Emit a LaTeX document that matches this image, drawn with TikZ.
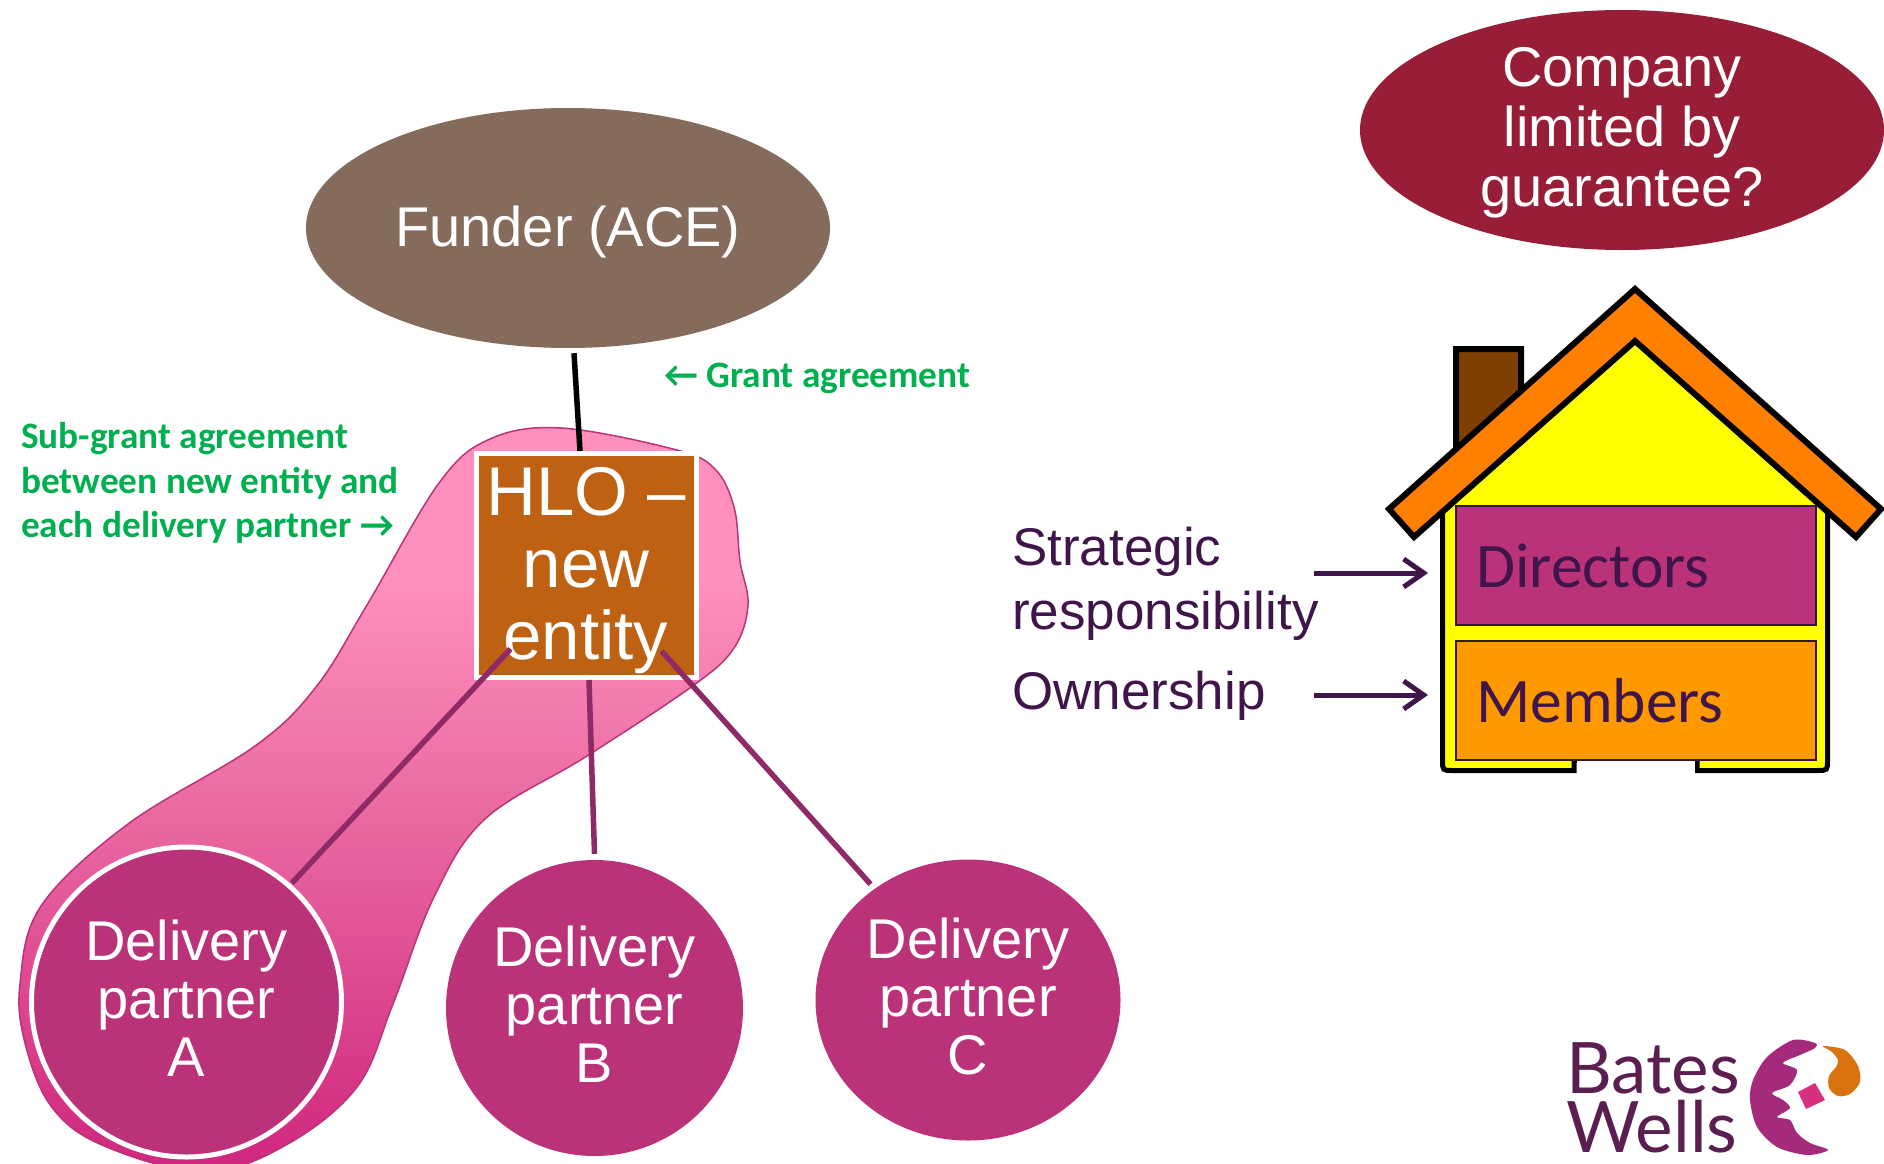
\documentclass[tikz,border=0pt]{standalone}
\usepackage{fontspec}
\setmainfont{Liberation Sans}
\newfontfamily\calib{Carlito}
\newfontfamily\logofont{Lato}
\usetikzlibrary{shapes.geometric,arrows.meta}
\definecolor{funderc}{HTML}{856B5B}
\definecolor{companyc}{HTML}{981D37}
\definecolor{magentac}{HTML}{BA3378}
\definecolor{linkc}{HTML}{8E2A66}
\definecolor{hloc}{HTML}{BE6113}
\definecolor{plumc}{HTML}{40154A}
\definecolor{greenc}{HTML}{00B050}
\definecolor{roofc}{HTML}{FF8000}
\definecolor{chimc}{HTML}{7F3F00}
\definecolor{wallc}{HTML}{FFFF00}
\definecolor{memc}{HTML}{FF9900}
\definecolor{logoc}{HTML}{5A1E50}
\definecolor{logom}{HTML}{A62A7C}
\definecolor{logoo}{HTML}{D9730F}
\definecolor{logop}{HTML}{D8307F}
\pgfdeclareverticalshading{blobshade}{100bp}{rgb(0bp)=(0.816,0.149,0.494); rgb(25bp)=(0.816,0.149,0.494); rgb(50bp)=(0.918,0.424,0.639); rgb(65bp)=(1,0.565,0.745); rgb(100bp)=(1,0.565,0.745)}
\tikzset{
  bigoval/.style={ellipse,inner sep=0pt,minimum width=524pt,minimum height=240pt,text=white,align=center,font=\fontsize{56}{60}\selectfont},
  partner/.style={ellipse,inner sep=0pt,fill=magentac,text=white,align=center,font=\fontsize{56}{58}\selectfont},
  link/.style={draw=linkc,line width=5.5pt},
  greentext/.style={text=greenc,align=left,inner sep=0pt,font=\calib\bfseries\fontsize{37.3}{44.5}\selectfont},
  plumtext/.style={text=plumc,align=left,inner sep=0pt,font=\fontsize{53}{64}\selectfont},
  roomlabel/.style={text=plumc,inner sep=0pt,anchor=base west,font=\calib\fontsize{63.5}{64}\selectfont},
  room/.style={draw=plumc!85!black,line width=2pt,minimum width=360pt,minimum height=119pt,inner sep=0pt},
  housearrow/.style={draw=plumc,line width=5pt,-{Straight Barb[length=20pt,width=28pt,line width=5pt]}},
  logotext/.style={text=logoc,inner sep=0pt,anchor=north west,align=left,font=\logofont\fontsize{71}{59}\selectfont}
}
\begin{document}
\begin{tikzpicture}[x=1pt,y=-1pt]
\path[fill=white,use as bounding box] (0,0) rectangle (1884,1164);
% blob
\shade[shading=blobshade,draw=magentac,line width=1.5pt]
 plot[smooth cycle,tension=0.6] coordinates {(561,428)(673,449)(714,468)(734,507)(740,561)(748,605)(734,648)(694,685)(587,756)(485,819)(434,897)(393,1004)(357,1087)(286,1145)(204,1172)(102,1145)(51,1106)(25,1043)(20,984)(41,906)(128,824)(255,746)(316,687)(367,605)(439,483)(490,439)};
% main nodes
\node[bigoval,fill=funderc] (funder) at (568,228) {\rule{0pt}{48pt}Funder (ACE)};
\node[bigoval,fill=companyc] (company) at (1622,130) {\rule{0pt}{33pt}\smash{Company}\\limited by\\\smash{guarantee?}};
\node[draw=white,line width=5pt,fill=hloc,text=white,align=center,inner sep=0pt,minimum width=220pt,minimum height=224pt,font=\fontsize{69}{72}\selectfont] (hlo) at (586,565.5) {\rule{0pt}{58pt}HLO --\\new\\entity};
\node[partner,draw=white,line width=5pt,minimum width=310pt,minimum height=310pt] (dpa) at (186.5,1002) {Delivery\\partner\\\rule[-7pt]{0pt}{1pt}A};
\node[partner,minimum width=297pt,minimum height=296pt] (dpb) at (594.5,1008) {Delivery\\partner\\\rule[-7pt]{0pt}{1pt}B};
\node[partner,minimum width=305pt,minimum height=281pt] (dpc) at (968,1000) {Delivery\\partner\\\rule[-7pt]{0pt}{1pt}C};
% connectors
\draw[line width=5.5pt,black] ([xshift=6pt,yshift=-5pt]funder.south) -- ([xshift=-6pt]hlo.north);
\draw[link] ([xshift=37pt,yshift=31pt]hlo.south west) -- ([xshift=2pt]dpa.49);
\draw[link] ([xshift=3pt]hlo.south) -- ([yshift=6pt]dpb.north);
\draw[link] ([xshift=-37pt,yshift=29pt]hlo.south east) -- ([xshift=-2pt,yshift=6pt]dpc.131);
% green text
\node[greentext,anchor=north west] (subgrant) at (21,422.5) {Sub-grant agreement\\between new entity and\\each delivery partner →};
\node[greentext,anchor=base west] (grant) at (664,387) {← Grant agreement};
% house
\draw[line width=6pt,fill=chimc,line join=miter] (1456,349) -- (1521,349) -- (1521,400) -- (1456,460) -- cycle;
\draw[line width=5pt,fill=wallc,line join=miter] (1635,330) -- (1827.5,505) -- (1827.5,760) .. controls (1827.5,770.5) .. (1817,770.5) -- (1697,770.5) -- (1697,760) -- (1574,760) -- (1574,770.5) -- (1453,770.5) .. controls (1442.5,770.5) .. (1442.5,760) -- (1442.5,505) -- cycle;
\fill[white] (1576.5,761) rectangle (1694.5,776);
\draw[line width=6pt,fill=roofc,line join=miter] (1635,289) -- (1881,509) -- (1856,537) -- (1635,341) -- (1414,537) -- (1389,509) -- cycle;
\node[room,fill=magentac] (directors) at (1636,565) {};
\node[room,fill=memc] (members) at (1636,700) {};
\node[roomlabel] (dirlabel) at (1476,587) {Directors};
\node[roomlabel] (memlabel) at (1476,722) {Members};
% labels and arrows
\node[plumtext,anchor=north west] (strategic) at (1012,527) {Strategic\\responsibility};
\node[plumtext,anchor=base west] (ownership) at (1012,709) {Ownership};
\coordinate (strstart) at (1314,573);
\coordinate (ownstart) at (1314,695);
\coordinate (strend) at (1428,573);
\coordinate (ownend) at (1428,695);
\draw[housearrow] (strstart) -- (strend);
\draw[housearrow] (ownstart) -- (ownend);
% logo
\node[logotext] (logoname) at (1566,1042) {Bates\\Wells};
\fill[logom] plot[smooth cycle,tension=0.5] coordinates {(1815,1043)(1793,1040)(1767,1057)(1753,1080)(1750,1100)(1757,1127)(1777,1147)(1807,1155)(1828,1150)(1810,1143)(1797,1133)(1790,1120)(1777,1117)(1790,1108)(1783,1100)(1772,1093)(1790,1085)(1797,1070)(1783,1063)(1800,1055)(1815,1048)};
\fill[logoo] plot[smooth cycle,tension=0.5] coordinates {(1823,1046)(1845,1050)(1858,1066)(1860,1082)(1850,1094)(1838,1096)(1829,1088)(1829,1076)(1836,1067)(1838,1060)(1832,1052)};
\fill[logop] (1815,1083) -- (1825,1100) -- (1806,1109) -- (1798,1092) -- cycle;
\end{tikzpicture}
\end{document}
